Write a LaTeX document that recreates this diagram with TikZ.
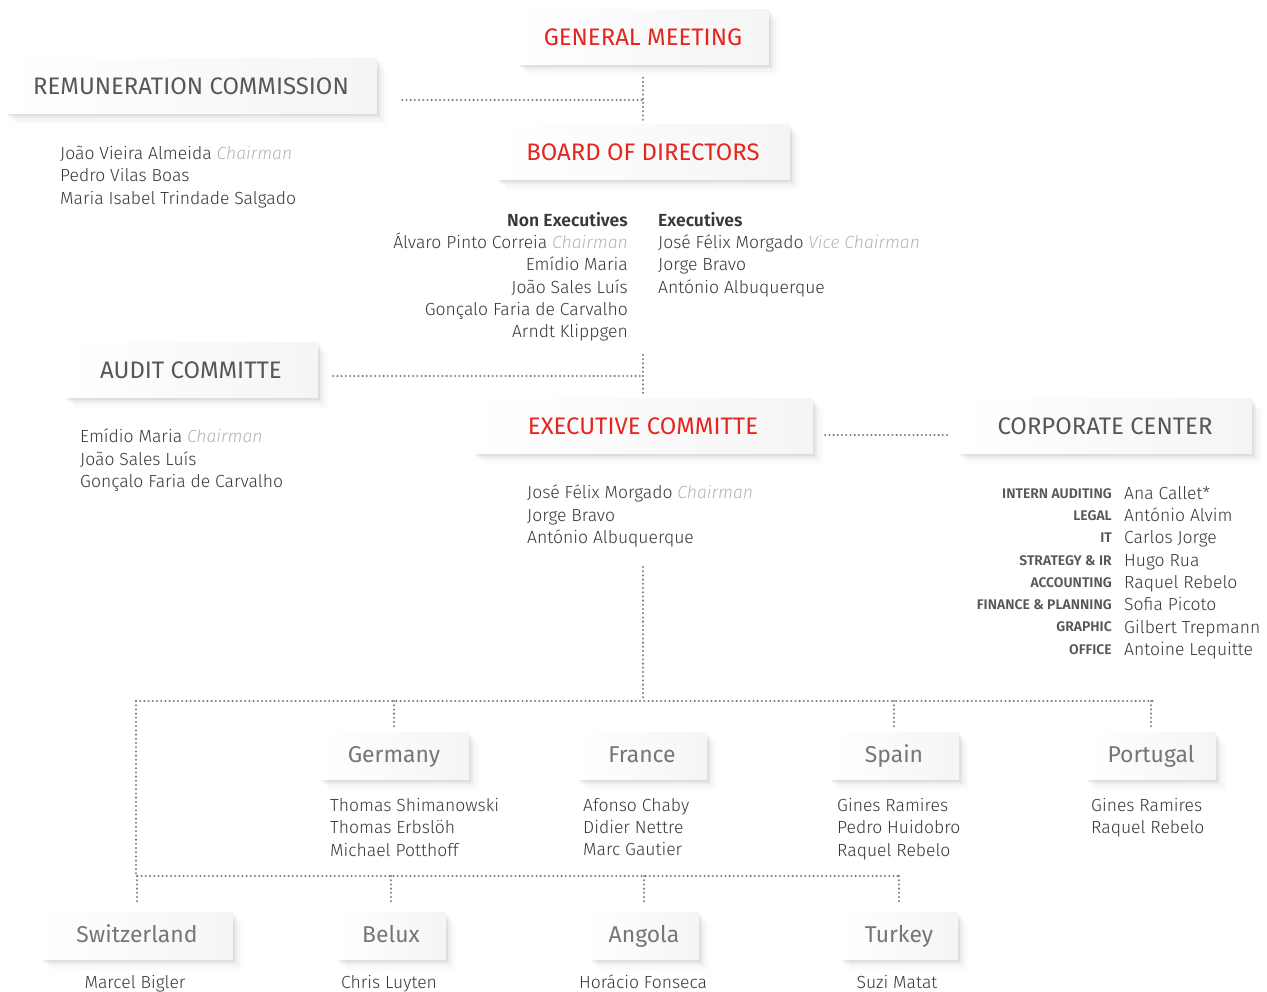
\documentclass[tikz,border=0pt]{standalone}
\usepackage{fontspec}
\setmainfont{Fira Sans}[UprightFont=* Light, ItalicFont=* Light Italic, BoldFont=* SemiBold]
\newfontfamily\titlefont{Fira Sans}
\usetikzlibrary{shadows}

\definecolor{ecred}{HTML}{E5261F}
\definecolor{ink}{HTML}{383838}
\definecolor{soft}{HTML}{B4B4B4}
\definecolor{headgray}{HTML}{575757}
\definecolor{landgray}{HTML}{767676}
\definecolor{linkgray}{HTML}{7E7E7E}
\newcommand{\chair}[1]{{\color{soft}\itshape #1}}
\newcommand{\bodyfont}{\fontsize{17.6}{22.4}\selectfont}
\newcommand{\deptfont}{\fontsize{14}{22.4}\selectfont\bfseries}

\begin{document}
\begin{tikzpicture}
[x=1bp,y=-1bp,%
  headbox/.style={shape=rectangle,inner sep=0pt,left color=white,right color=black!4,
    drop shadow={shadow xshift=2bp,shadow yshift=-2bp,fill=black,opacity=.05},
    drop shadow={shadow xshift=4bp,shadow yshift=-4bp,fill=black,opacity=.04},
    drop shadow={shadow xshift=7bp,shadow yshift=-7bp,fill=black,opacity=.025},
    drop shadow={shadow xshift=10bp,shadow yshift=-10bp,fill=black,opacity=.015},
    font=\titlefont\fontsize{24}{24}\selectfont,text=headgray,
    minimum height=55bp,text height=17bp,text depth=0pt},%
  redhead/.style={headbox,text=ecred},%
  landbox/.style={headbox,text=landgray,minimum height=47bp,
    font=\titlefont\fontsize{23}{23}\selectfont,text height=16bp,text depth=4bp},%
  names/.style={anchor=north west,inner sep=0pt,align=left,font=\bodyfont,text=ink,
    execute at begin node=\strut},%
  link/.style={draw=linkgray,line width=2.3bp,dash pattern=on 0pt off 4.2bp,line cap=round}]

\fill[white] (0,0) rectangle (1267,992);
\useasboundingbox (0,0) rectangle (1267,992);

% governing bodies
\node[redhead,minimum width=252bp] (gm) at (643,37) {GENERAL MEETING};
\node[headbox,minimum width=372bp] (rc) at (191,86) {REMUNERATION COMMISSION};
\node[redhead,minimum width=294bp] (bod) at (643,152) {BOARD OF DIRECTORS};
\node[headbox,minimum width=254bp] (ac) at (191,370) {AUDIT COMMITTE};
\node[redhead,minimum width=340bp] (ec) at (643,426) {EXECUTIVE COMMITTE};
\node[headbox,minimum width=294bp] (cc) at (1105,426) {CORPORATE CENTER};

\node[names] (rc-list) at (60,146) {João Vieira Almeida \chair{Chairman}\\
  Pedro Vilas Boas\\ Maria Isabel Trindade Salgado};
\node[names,anchor=north east,align=right] (nonexec) at (628,212)
  {\textbf{Non Executives}\\ Álvaro Pinto Correia \chair{Chairman}\\ Emídio Maria\\
  João Sales Luís\\ Gonçalo Faria de Carvalho\\ Arndt Klippgen};
\node[names] (exec) at (658,212) {\textbf{Executives}\\
  José Félix Morgado \chair{Vice Chairman}\\ Jorge Bravo\\ António Albuquerque};
\node[names] (ac-list) at (80,429) {Emídio Maria \chair{Chairman}\\
  João Sales Luís\\ Gonçalo Faria de Carvalho};
\node[names] (ec-list) at (527,485) {José Félix Morgado \chair{Chairman}\\
  Jorge Bravo\\ António Albuquerque};
\node[names,anchor=north east,align=right,font=\deptfont,text=headgray] (depts) at (1112,488)
  {INTERN AUDITING\\ LEGAL\\ IT\\ STRATEGY \& IR\\ ACCOUNTING\\
  FINANCE \& PLANNING\\ GRAPHIC\\ OFFICE};
\node[names] (heads) at (1124,486) {Ana Callet*\\ António Alvim\\ Carlos Jorge\\
  Hugo Rua\\ Raquel Rebelo\\ Sofia Picoto\\ Gilbert Trepmann\\ Antoine Lequitte};

% countries
\node[landbox,minimum width=150bp] (germany) at (394,756) {Germany};
\node[landbox,minimum width=130bp] (france) at (642,756) {France};
\node[landbox,minimum width=130bp] (spain) at (894,756) {Spain};
\node[landbox,minimum width=130bp] (portugal) at (1151,756) {Portugal};
\node[landbox,minimum width=192bp] (swiss) at (137,936) {Switzerland};
\node[landbox,minimum width=110bp] (belux) at (391,936) {Belux};
\node[landbox,minimum width=110bp] (angola) at (644,936) {Angola};
\node[landbox,minimum width=118bp] (turkey) at (899,936) {Turkey};

\node[names] (germany-list) at (330,798) {Thomas Shimanowski\\ Thomas Erbslöh\\
  Michael Potthoff};
\node[names] (france-list) at (583,798) {Afonso Chaby\\ Didier Nettre\\ Marc Gautier};
\node[names] (spain-list) at (837,798) {Gines Ramires\\ Pedro Huidobro\\ Raquel Rebelo};
\node[names] (portugal-list) at (1091,798) {Gines Ramires\\ Raquel Rebelo};
\node[names,anchor=north] (swiss-list) at (135,973) {Marcel Bigler};
\node[names,anchor=north] (belux-list) at (389,973) {Chris Luyten};
\node[names,anchor=north] (angola-list) at (643,973) {Horácio Fonseca};
\node[names,anchor=north] (turkey-list) at (897,973) {Suzi Matat};

% connectors
\coordinate (j1) at (643,100);
\coordinate (bod-out) at (643,355);
\coordinate (j2) at (643,376);
\coordinate (cc-in) at (950,435);
\coordinate (ec-out) at (643,567);
\coordinate (r1w) at (136,701);
\coordinate (r1e) at (1153,701);
\coordinate (r2w) at (136,876);
\coordinate (r2e) at (899,876);

\draw[link] ([yshift=-13bp]gm.south) -- ([yshift=4bp]bod.north);
\draw[link] ([xshift=25bp]rc.east |- j1) -- (j1);
\draw[link] (bod-out) -- ([yshift=2bp]ec.north);
\draw[link] ([xshift=15bp]ac.east |- j2) -- (j2);
\draw[link] (ec.east |- cc-in) ++(12,0) -- (cc-in);
\draw[link] (ec-out) -- (ec-out |- r1w);
\draw[link] (r1w) -- (r1e);
\draw[link] (r1w) -- (r2w) -- (r2e);
\foreach \land in {germany,spain,portugal}
  \draw[link] (\land.north |- r1w) -- ([yshift=5bp]\land.north);
\foreach \land in {swiss,belux,angola,turkey}
  \draw[link] (\land.north |- r2w) -- ([yshift=10bp]\land.north);
\end{tikzpicture}
\end{document}
